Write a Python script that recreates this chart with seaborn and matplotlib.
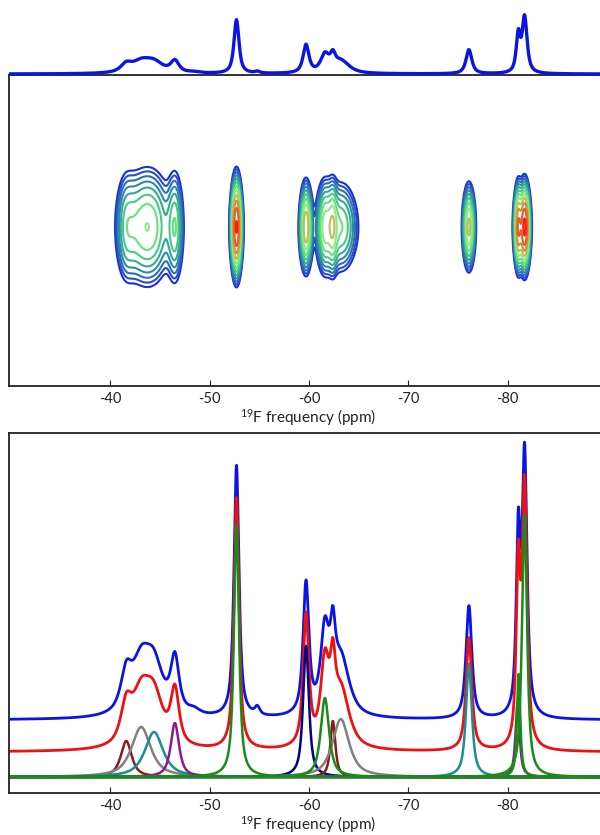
"""
19F MAS NMR: 1D projection + 2D contour map (top) and spectral deconvolution (bottom).
"""
import numpy as np
import pandas as pd
import matplotlib
matplotlib.use("Agg")
import matplotlib.pyplot as plt
from matplotlib.colors import LinearSegmentedColormap
import seaborn as sns

# Fitted components
comp_ppm = [-41.6, -43.1, -44.4, -46.5, -52.7, -59.7, -61.6, -62.4, -63.2, -76.1, -81.0, -81.1, -81.7]
comp_height = [36, 50, 45, 54, 252, 131, 79, 56, 58, 113, 74, 103, 262]
comp_fwhm = [1.3, 2.3, 2.2, 1.0, 0.6, 0.7, 1.0, 0.6, 2.0, 0.7, 0.5, 0.4, 0.6]
comp_color = ["#8b1a1a", "#808080", "#17908f", "#8b1a8b", "#1a8a1a", "#00008b", "#1a8a1a",
              "#8b1a1a", "#808080", "#17908f", "#8b1a8b", "#1a8a1a", "#1a8a1a"]
# width of each signal along the indirect dimension of the 2D map
comp_f1_width = [30, 30, 30, 30, 24, 22, 24, 24, 24, 21, 21, 21, 21]

# small features only present in the measured spectrum
extra_ppm = [-54.8, -48.4]
extra_height = [8, 5]
extra_fwhm = [0.6, 1.5]

tick_values = [-40, -50, -60, -70, -80]
tick_labels = ["-40", "-50", "-60", "-70", "-80"]
xlabel = r"$\mathregular{^{19}}$F frequency (ppm)"

# trace baselines in the lower panel
COMP_BASE, FIT_BASE, EXP_BASE = 16, 41, 73
XLIM = (-29.8, -89.95)


def pseudo_voigt(x, centre, height, fwhm, lor=0.8):
    hw = fwhm / 2.0
    u = (x - centre) / hw
    return height * (lor / (1.0 + u ** 2) + (1 - lor) * np.exp(-np.log(2) * u ** 2))


ppm = np.linspace(XLIM[0], XLIM[1], 3000)
components = [pseudo_voigt(ppm, c, h, w) for c, h, w in zip(comp_ppm, comp_height, comp_fwhm)]
fit = np.sum(components, axis=0)
measured = fit + np.sum([pseudo_voigt(ppm, c, h, w)
                         for c, h, w in zip(extra_ppm, extra_height, extra_fwhm)], axis=0)

# 2D map built from the same signals (more gaussian along F2)
f1 = np.linspace(0, 311, 320)
F2, F1 = np.meshgrid(ppm, f1)
Z = np.zeros_like(F2)
for c, h, w, s in zip(comp_ppm, comp_height, comp_fwhm, comp_f1_width):
    Z += pseudo_voigt(F2, c, h, w * 1.1, lor=0.1) * np.exp(-(F1 - 159) ** 2 / (2 * s ** 2))
Z /= Z.max()

sns.set_theme(style="white")
plt.rcParams["font.family"] = ["Lato", "DejaVu Sans"]

fig = plt.figure(figsize=(6, 8.35), dpi=100)


def rect(left, top, right, bottom):
    return [left / 600, 1 - bottom / 835, (right - left) / 600, (bottom - top) / 835]


ax_2d = fig.add_axes(rect(9, 75, 606.5, 386))
ax_top = fig.add_axes(rect(9, 0, 606.5, 76))
ax_fit = fig.add_axes(rect(9, 433, 606.5, 793))

# projection
sns.lineplot(x=ppm, y=measured, ax=ax_top, color="#0a14e6", lw=2.4,
             estimator=None, sort=False)
ax_top.set_xlim(*XLIM)
ax_top.set_ylim(-9, 347)
ax_top.axis("off")

# contour map
levels = 0.04 * 1.33 ** np.arange(12)
cmap = LinearSegmentedColormap.from_list(
    "nmr", ["#1a30d8", "#2d5cc2", "#2d86aa", "#33ad90", "#4fdc7c", "#8cee86",
            "#c2b84e", "#df7330", "#ff1a0a"])
ax_2d.contour(F2, F1, Z, levels=levels,
              colors=[cmap(i / (len(levels) - 1)) for i in range(len(levels))],
              linewidths=1.5)
ax_2d.set_xlim(*XLIM)
ax_2d.set_ylim(0, 311)

# deconvolution
sns.lineplot(x=ppm, y=measured + EXP_BASE, ax=ax_fit, color="#0a14e6", lw=2.0,
             estimator=None, sort=False)
sns.lineplot(x=ppm, y=fit + FIT_BASE, ax=ax_fit, color="#ee1111", lw=2.0,
             estimator=None, sort=False)
order = sorted(range(len(components)), key=lambda i: comp_color[i] == "#1a8a1a")
for i in order:
    sns.lineplot(x=ppm, y=components[i] + COMP_BASE, ax=ax_fit, color=comp_color[i],
                 lw=1.8, estimator=None, sort=False)
ax_fit.set_xlim(*XLIM)
ax_fit.set_ylim(0, 360)

for ax in (ax_2d, ax_fit):
    ax.set_xticks(tick_values)
    ax.set_xticklabels(tick_labels)
    ax.set_yticks([])
    ax.tick_params(axis="x", direction="in", length=4, width=0.8, colors="#222222",
                   labelsize=10.5, pad=4, bottom=True)
    ax.set_xlabel(xlabel, fontsize=11, labelpad=1, color="#222222")
    ax.set_ylabel("")
    for side in ax.spines.values():
        side.set_color("#222222")
        side.set_linewidth(1.3)

fig.savefig("out.png", dpi=100)
